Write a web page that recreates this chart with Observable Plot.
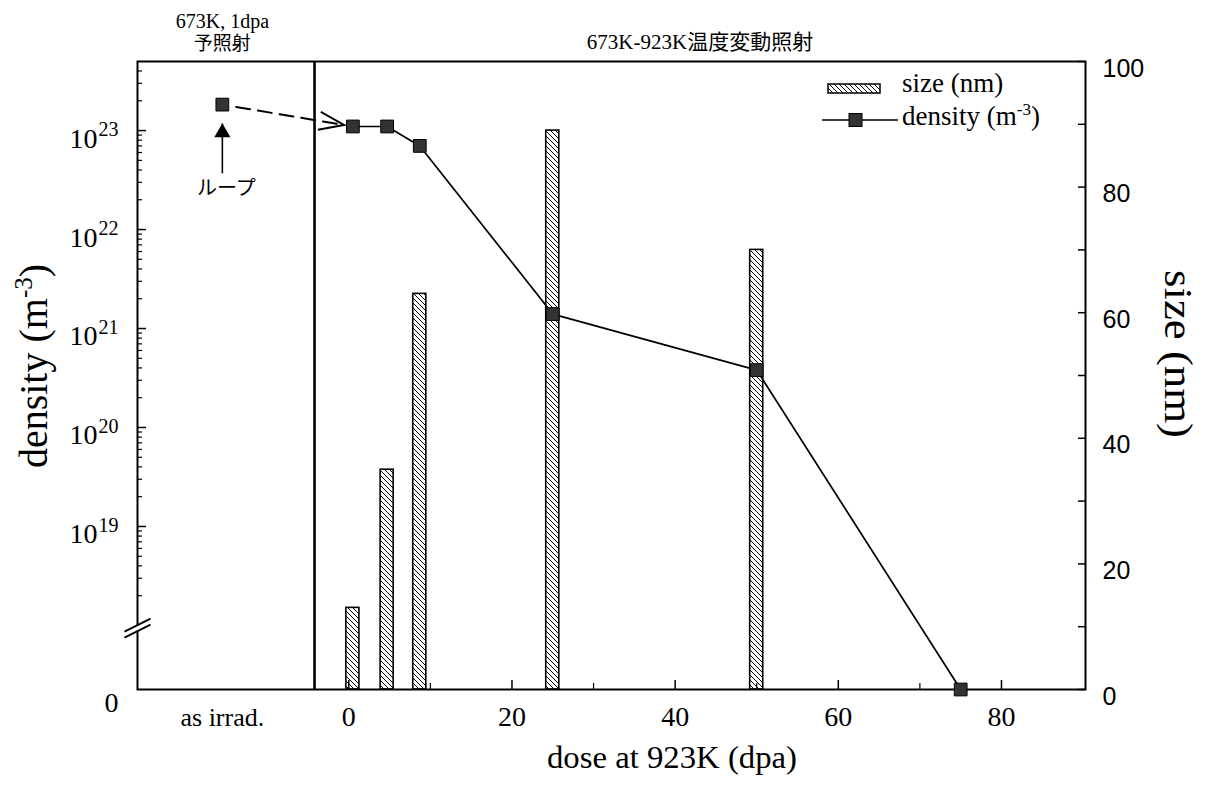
<!DOCTYPE html>
<html>
<head>
<meta charset="utf-8">
<script src="https://cdn.jsdelivr.net/npm/d3@7"></script>
<script src="https://cdn.jsdelivr.net/npm/@observablehq/plot@0.6"></script>
<style>
  body { margin: 0; background: #fff; }
  #wrap { position: relative; width: 1205px; height: 787px; }
  #overlay { position: absolute; left: 0; top: 0; pointer-events: none; }
  #overlay text { font-family: "Liberation Serif", "Noto Sans CJK JP", serif; fill: #000; }
</style>
</head>
<body>
<div id="wrap"></div>
<script>
// ---------------- data ----------------
const doses      = [0.5, 4.7, 8.7, 25, 50, 75];                 // dose at 923K (dpa)
const densities  = [1.1e23, 1.1e23, 7.0e22, 1.4e21, 3.8e20, 0]; // loop density (m^-3)
const sizeDoses  = [0.5, 4.7, 8.7, 25, 50];
const sizes      = [13, 35, 63, 89, 70];                          // loop size (nm)
const asIrradDose = -15.5;          // position of the "as irrad." column
const asIrradDensity = 1.83e23;     // 673K, 1dpa pre-irradiation
const boundaryDose = -4.2;          // separator between the two regimes
const xMajorTicks = [0, 20, 40, 60, 80];
const xMinorTicks = [10, 30, 50, 70];
const decadeExps  = [19, 20, 21, 22, 23];
const sizeTicks   = [0, 20, 40, 60, 80, 100];
const sizeMinorTicks = [10, 30, 50, 70, 90];
const loopArrow = {dose: asIrradDose, fromDensity: 3.7e22, toDensity: 1.18e23, labelDensity: 2.6e22};

// ---------------- layout ----------------
const W = 1205, H = 787, ML = 137, MR = 120, MT = 61, MB = 98;
const FW = W - ML - MR, FH = H - MT - MB;
const xDomain = [-25.9, 90.3];

// broken log axis for density mapped onto the shared (size) y scale, 0..100
const DENS_TOP_S = 89.0, DECADE_S = 15.76, BREAK_S = 9.7;
const densToY = d => d > 0 ? DENS_TOP_S + (Math.log10(d) - 23) * DECADE_S : 0;

const densityData = doses.map((d, i) => ({dose: d, density: densities[i]}));
const sizeData = sizeDoses.map((d, i) => ({dose: d, size: sizes[i]}));
const asIrrad = [{dose: asIrradDose, density: asIrradDensity}];

const leftMinor = [];
for (let n = 18; n <= 23; n++) for (let k = 2; k <= 9; k++) {
  const s = densToY(k * 10 ** n);
  if (s <= 100) leftMinor.push(s);
}
const leftMajor = decadeExps.map(n => densToY(10 ** n));

// dashed connector & its arrowhead
const connector = [{x1: asIrradDose, y1: densToY(asIrradDensity), x2: doses[0], y2: densToY(densities[0])}];
const pxX = FW / (xDomain[1] - xDomain[0]), pxY = FH / 100;
const headAngle = Math.atan2(-(connector[0].y2 - connector[0].y1) * pxY, (connector[0].x2 - connector[0].x1) * pxX) * 180 / Math.PI;
const vHead = {draw(ctx) { ctx.moveTo(-34, -9); ctx.lineTo(-9, 0); ctx.lineTo(-34, 9); }};
const breakFill = {draw(ctx) { ctx.moveTo(-13, 3); ctx.lineTo(13, -10); ctx.lineTo(13, -4); ctx.lineTo(-13, 9); ctx.closePath(); }};
const breakLines = {draw(ctx) { ctx.moveTo(-13, 3); ctx.lineTo(13, -10); ctx.moveTo(-13, 9); ctx.lineTo(13, -4); }};

const serif = "Liberation Serif";
const cjk = "Liberation Serif, Noto Sans CJK JP";

const chart = Plot.plot({
  width: W, height: H,
  marginLeft: ML, marginRight: MR, marginTop: MT, marginBottom: MB,
  x: {domain: xDomain, axis: null},
  y: {domain: [0, 100], axis: null},
  style: {fontFamily: serif, background: "#fff", color: "#000", overflow: "visible"},
  marks: [
    // hatched size bars
    Plot.rectY(sizeData, {x1: d => d.dose - 0.8, x2: d => d.dose + 0.8, y: "size",
      fill: "url(#hatch)", stroke: "#000", strokeWidth: 1.6}),
    Plot.frame({stroke: "#000", strokeWidth: 2}),
    Plot.ruleX([boundaryDose], {stroke: "#000", strokeWidth: 2.6}),
    // inward ticks
    Plot.tickY(leftMajor, {y: d => d, insetRight: FW - 9, strokeWidth: 1.5}),
    Plot.tickY(leftMinor, {y: d => d, insetRight: FW - 5, strokeWidth: 1.2}),
    Plot.tickY(sizeTicks.concat(sizeMinorTicks), {y: d => d, insetLeft: FW - 7, strokeWidth: 1.5}),
    Plot.tickX(xMajorTicks, {x: d => d, insetTop: FH - 9, strokeWidth: 1.5}),
    Plot.tickX(xMinorTicks, {x: d => d, insetTop: FH - 6, strokeWidth: 1.2}),
    // axis break
    Plot.dot([BREAK_S], {y: d => d, frameAnchor: "left", symbol: breakFill, fill: "#fff", stroke: "none"}),
    Plot.dot([BREAK_S], {y: d => d, frameAnchor: "left", symbol: breakLines, fill: "none", stroke: "#000", strokeWidth: 2}),
    // dashed connector from pre-irradiation
    Plot.arrow(connector, {x1: "x1", y1: "y1", x2: "x2", y2: "y2", headLength: 0,
      insetStart: 14, insetEnd: 10, strokeDasharray: "14,8", strokeWidth: 2}),
    Plot.dot(connector, {x: "x2", y: "y2", symbol: vHead, rotate: headAngle, fill: "none", stroke: "#000", strokeWidth: 2}),
    // density line + markers
    Plot.line(densityData, {x: "dose", y: d => densToY(d.density), stroke: "#000", strokeWidth: 1.7}),
    Plot.dot(densityData.concat(asIrrad), {x: "dose", y: d => densToY(d.density), symbol: "square", r: 7.2,
      fill: "#333", stroke: "#000", strokeWidth: 1}),
    // loop annotation
    Plot.link([loopArrow], {x1: "dose", x2: "dose", y1: d => densToY(d.fromDensity), y2: d => densToY(d.toDensity), strokeWidth: 1.6}),
    Plot.dot([loopArrow], {x: "dose", y: d => densToY(d.toDensity), symbol: "triangle", r: 6, dy: 9, fill: "#000", stroke: "none"}),
    Plot.text([loopArrow], {x: "dose", y: d => densToY(d.labelDensity), text: () => "ループ", dx: 4,
      fontFamily: "Noto Sans CJK JP", fontSize: 20, lineAnchor: "middle"}),
    // top labels
    Plot.text([asIrradDose], {x: d => d, text: () => "673K, 1dpa", frameAnchor: "top", dy: -40, lineAnchor: "middle", fontSize: 20, fontFamily: cjk}),
    Plot.text([asIrradDose], {x: d => d, text: () => "予照射", frameAnchor: "top", dy: -18, lineAnchor: "middle", fontSize: 19, fontFamily: cjk}),
    Plot.text([(boundaryDose + xDomain[1]) / 2], {x: d => d, text: () => "673K-923K温度変動照射", frameAnchor: "top", dy: -19, lineAnchor: "middle", fontSize: 21, fontFamily: cjk}),
    // x tick labels
    Plot.text(xMajorTicks, {x: d => d, text: d => String(d), frameAnchor: "bottom", dy: 28, lineAnchor: "middle", fontSize: 28}),
    Plot.text([asIrradDose], {x: d => d, text: () => "as irrad.", frameAnchor: "bottom", dy: 28, lineAnchor: "middle", fontSize: 26}),
    // left (density) tick labels
    Plot.text(decadeExps, {y: n => densToY(10 ** n), text: () => "10", frameAnchor: "left", textAnchor: "end", dx: -40, dy: 8, lineAnchor: "middle", fontSize: 28}),
    Plot.text(decadeExps, {y: n => densToY(10 ** n), text: n => String(n), frameAnchor: "left", textAnchor: "start", dx: -39, dy: -1, lineAnchor: "middle", fontSize: 20}),
    Plot.text([0], {y: d => d, text: () => "0", frameAnchor: "left", textAnchor: "end", dx: -19, dy: 14, lineAnchor: "middle", fontSize: 28}),
    // right (size) tick labels
    Plot.text(sizeTicks, {y: d => d, text: d => String(d), frameAnchor: "right", textAnchor: "start", dx: 17, dy: 7, lineAnchor: "middle", fontSize: 25, fontFamily: "Liberation Sans"})
  ]
});

d3.select(chart).insert("defs", ":first-child").html(
  '<pattern id="hatch" patternUnits="userSpaceOnUse" width="5" height="5">' +
  '<rect width="5" height="5" fill="#fff"/>' +
  '<path d="M-1,-1L6,6M-1,4L1,6M4,-1L6,1" stroke="#000" stroke-width="1"/></pattern>');

const wrap = document.getElementById("wrap");
wrap.appendChild(chart);

// overlay: axis titles and legend
const ns = "http://www.w3.org/2000/svg";
const ov = document.createElementNS(ns, "svg");
ov.setAttribute("id", "overlay");
ov.setAttribute("width", W);
ov.setAttribute("height", H);
ov.innerHTML = `
  <defs>
    <pattern id="hatch2" patternUnits="userSpaceOnUse" width="5" height="5">
      <rect width="5" height="5" fill="#fff"/>
      <path d="M-1,-1L6,6M-1,4L1,6M4,-1L6,1" stroke="#000" stroke-width="1"/>
    </pattern>
  </defs>
  <text transform="translate(47,366) rotate(-90)" text-anchor="middle" font-size="40">density (m<tspan dy="-15" font-size="25">-3</tspan><tspan dy="15">)</tspan></text>
  <text transform="translate(1165,354) rotate(90)" text-anchor="middle" font-size="40" textLength="168" lengthAdjust="spacingAndGlyphs">size (nm)</text>
  <text x="672" y="768" text-anchor="middle" font-size="32" textLength="250" lengthAdjust="spacingAndGlyphs">dose at 923K (dpa)</text>
  <rect x="828" y="84" width="52" height="9" fill="url(#hatch2)" stroke="#000" stroke-width="1.5"/>
  <text x="902" y="92" font-size="27">size (nm)</text>
  <line x1="822" x2="898" y1="120" y2="120" stroke="#000" stroke-width="1.6"/>
  <rect x="849" y="113.5" width="13" height="13" fill="#333" stroke="#000" stroke-width="1"/>
  <text x="902" y="125" font-size="27">density (m<tspan dy="-10" font-size="17">-3</tspan><tspan dy="10">)</tspan></text>
`;
wrap.appendChild(ov);
</script>
</body>
</html>
